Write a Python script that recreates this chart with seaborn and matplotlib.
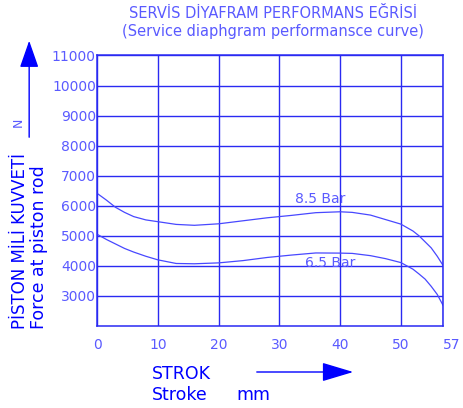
import numpy as np
import pandas as pd
import matplotlib
matplotlib.use('Agg')
import matplotlib.pyplot as plt
import seaborn as sns

sns.set_style('white')
plt.rcParams['font.family'] = ['DejaVu Sans']

# data
stroke = [0, 1.5, 3, 4.5, 6, 8, 10, 13, 16, 20, 24, 28, 32, 36, 40, 42, 45, 47.5, 50, 52, 53, 54, 55, 56, 57]
force_85 = [6410, 6190, 5950, 5780, 5640, 5530, 5470, 5380, 5350, 5400, 5500, 5600, 5680, 5770, 5800,
            5780, 5690, 5540, 5390, 5160, 5000, 4800, 4600, 4320, 4000]
force_65 = [5050, 4880, 4730, 4580, 4460, 4320, 4200, 4080, 4070, 4100, 4175, 4280, 4360, 4430, 4425,
            4415, 4340, 4240, 4110, 3890, 3730, 3560, 3320, 3050, 2670]
pressures = ['8.5 Bar', '6.5 Bar']
label_pos = {'8.5 Bar': (36.7, 6240), '6.5 Bar': (38.4, 4080)}

xticks = [0, 10, 20, 30, 40, 50, 57]
yticks = [3000, 4000, 5000, 6000, 7000, 8000, 9000, 10000, 11000]

df = pd.concat([
    pd.DataFrame({'stroke': stroke, 'force': force_85, 'pressure': '8.5 Bar'}),
    pd.DataFrame({'stroke': stroke, 'force': force_65, 'pressure': '6.5 Bar'}),
])

blue = '#0000FF'
grid_c = '#2A2AF2'
light = '#5A5AFF'
curve_c = '#4848FF'

fig = plt.figure(figsize=(4.63, 4.08), dpi=100)
ax = fig.add_axes([0.210, 0.201, 0.7475, 0.663])

sns.lineplot(data=df, x='stroke', y='force', hue='pressure',
             palette={p: curve_c for p in pressures}, linewidth=0.9,
             legend=False, ax=ax, sort=False, estimator=None)

for p in pressures:
    ax.text(*label_pos[p], p, ha='center', va='center', fontsize=10, color=light)

ax.set_xlim(0, 57)
ax.set_ylim(2000, 11000)
ax.set_xticks(xticks)
ax.set_yticks(yticks)
ax.set_xticklabels([str(t) for t in xticks])
ax.set_yticklabels([str(t) for t in yticks])
ax.get_xticklabels()[-1].set_horizontalalignment('left')
ax.grid(True, color=grid_c, linewidth=1.0)
ax.tick_params(axis='both', length=0, labelsize=10, labelcolor=light)
ax.tick_params(axis='y', pad=1)
ax.tick_params(axis='x', pad=9)
for s in ax.spines.values():
    s.set_visible(True)
    s.set_color(grid_c)
    s.set_linewidth(1.1)
ax.set_xlabel('')
ax.set_ylabel('')

# titles
fig.text(0.59, 0.966, 'SERVİS DİYAFRAM PERFORMANS EĞRİSİ', ha='center', va='center',
         fontsize=10.5, color=light)
fig.text(0.59, 0.924, '(Service diaphgram performansce curve)', ha='center', va='center',
         fontsize=10.5, color=light)

# y axis label
fig.text(0.044, 0.193, 'PİSTON MİLİ KUVVETİ', rotation=90, ha='center', va='bottom',
         fontsize=12, color=blue)
fig.text(0.085, 0.193, 'Force at piston rod', rotation=90, ha='center', va='bottom',
         fontsize=12.5, color=blue)
fig.text(0.039, 0.70, 'N', rotation=90, ha='center', va='center', fontsize=9, color=light)
fig.add_artist(matplotlib.patches.FancyArrowPatch(
    (0.063, 1 - 140 / 408), (0.063, 1 - 38 / 408), transform=fig.transFigure,
    arrowstyle='-|>,head_length=1.2,head_width=0.42', mutation_scale=14,
    color=blue, linewidth=1.0))

# x axis label
fig.text(0.327, 0.083, 'STROK', ha='left', va='center', fontsize=12.5, color=blue)
fig.text(0.327, 0.033, 'Stroke', ha='left', va='center', fontsize=12.5, color=blue)
fig.text(0.51, 0.033, 'mm', ha='left', va='center', fontsize=12.5, color=blue)
fig.add_artist(matplotlib.patches.FancyArrowPatch(
    (254 / 463, 1 - 372 / 408), (356 / 463, 1 - 372 / 408), transform=fig.transFigure,
    arrowstyle='-|>,head_length=1.4,head_width=0.42', mutation_scale=14,
    color=blue, linewidth=1.0))

fig.savefig('out.png', dpi=100)
